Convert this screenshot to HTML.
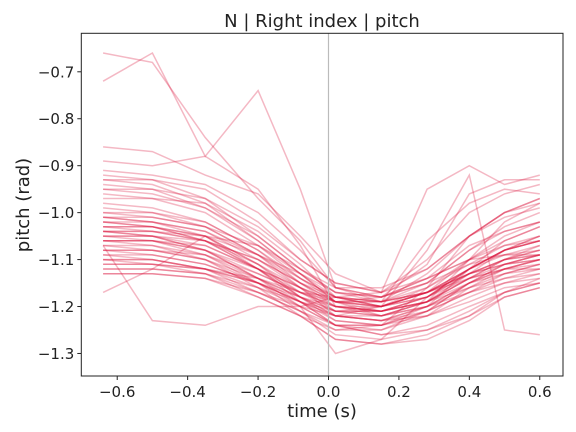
<!DOCTYPE html>
<html><head><meta charset="utf-8"><style>
html,body{margin:0;padding:0;background:#fff;}
svg{display:block;font-family:"DejaVu Sans","Liberation Sans",sans-serif;}
</style></head><body>
<svg id="chart" width="576" height="432">
<rect x="0" y="0" width="576" height="432" fill="#fff"/>
<g id="lines"></g>
<g id="axes"></g>
<text x="322" y="27" text-anchor="middle" font-size="18" fill="#222">N | Right index | pitch</text>
<text x="322" y="417" text-anchor="middle" font-size="18" fill="#222">time (s)</text>
<text x="0" y="0" transform="translate(29,205) rotate(-90)" text-anchor="middle" font-size="18" fill="#222">pitch (rad)</text>
</svg>
<script>
const times = [-0.64,-0.5,-0.35,-0.2,-0.08,0.02,0.15,0.28,0.4,0.5,0.6];
const series = [
[-0.93,-0.93,-0.95,-1.02,-1.10,-1.15,-1.17,-1.12,-1.05,-1.00,-0.97],
[-0.95,-0.95,-0.97,-1.05,-1.12,-1.17,-1.18,-1.15,-1.08,-1.03,-1.00],
[-0.97,-0.97,-0.98,-1.06,-1.13,-1.19,-1.20,-1.17,-1.10,-1.06,-1.03],
[-1.00,-1.00,-1.02,-1.08,-1.15,-1.20,-1.21,-1.18,-1.12,-1.08,-1.05],
[-1.01,-1.02,-1.04,-1.10,-1.16,-1.21,-1.22,-1.19,-1.14,-1.10,-1.07],
[-1.02,-1.03,-1.05,-1.11,-1.17,-1.18,-1.19,-1.17,-1.13,-1.10,-1.09],
[-1.03,-1.03,-1.06,-1.12,-1.18,-1.22,-1.23,-1.20,-1.15,-1.11,-1.09],
[-1.04,-1.05,-1.07,-1.12,-1.16,-1.19,-1.20,-1.18,-1.13,-1.11,-1.10],
[-1.05,-1.05,-1.08,-1.14,-1.19,-1.24,-1.25,-1.22,-1.16,-1.12,-1.10],
[-1.06,-1.06,-1.08,-1.13,-1.17,-1.20,-1.20,-1.17,-1.13,-1.10,-1.08],
[-1.07,-1.07,-1.09,-1.14,-1.18,-1.21,-1.22,-1.20,-1.16,-1.13,-1.11],
[-1.08,-1.08,-1.10,-1.15,-1.19,-1.23,-1.24,-1.22,-1.18,-1.15,-1.13],
[-1.09,-1.09,-1.11,-1.15,-1.19,-1.21,-1.21,-1.19,-1.16,-1.14,-1.13],
[-1.10,-1.10,-1.12,-1.16,-1.20,-1.24,-1.26,-1.24,-1.20,-1.17,-1.15],
[-1.12,-1.12,-1.13,-1.17,-1.20,-1.22,-1.22,-1.20,-1.17,-1.15,-1.14],
[-1.13,-1.13,-1.14,-1.17,-1.21,-1.26,-1.27,-1.25,-1.21,-1.17,-1.15],
[-1.05,-1.05,-1.06,-1.10,-1.15,-1.18,-1.17,-1.14,-1.10,-1.07,-1.06],
[-1.00,-1.01,-1.03,-1.09,-1.15,-1.19,-1.19,-1.15,-1.08,-1.04,-1.02],
[-0.98,-0.99,-1.02,-1.08,-1.14,-1.18,-1.19,-1.16,-1.10,-1.05,-1.02],
[-0.91,-0.92,-0.94,-1.00,-1.08,-1.16,-1.18,-1.11,-0.96,-0.93,-0.93],
[-0.86,-0.87,-0.92,-0.96,-1.05,-1.13,-1.17,-0.95,-0.90,-0.94,-0.92],
[-0.89,-0.90,-0.88,-0.95,-1.07,-1.20,-1.22,-1.19,-1.10,-1.02,-0.98],
[-1.04,-1.04,-1.05,-1.09,-1.13,-1.17,-1.18,-1.15,-1.11,-1.07,-1.05],
[-1.11,-1.11,-1.12,-1.15,-1.18,-1.20,-1.21,-1.19,-1.15,-1.13,-1.12],
[-1.02,-1.03,-1.06,-1.12,-1.18,-1.23,-1.24,-1.21,-1.15,-1.12,-1.10],
[-1.06,-1.07,-1.10,-1.16,-1.22,-1.27,-1.28,-1.27,-1.23,-1.18,-1.16],
[-1.08,-1.09,-1.11,-1.15,-1.20,-1.24,-1.26,-1.25,-1.22,-1.17,-1.14],
[-0.95,-0.96,-0.99,-1.05,-1.12,-1.17,-1.19,-1.06,-0.98,-0.95,-0.96],
[-1.01,-1.01,-1.03,-1.07,-1.12,-1.16,-1.16,-1.12,-1.05,-1.01,-0.99],
[-0.93,-0.94,-0.98,-1.04,-1.11,-1.18,-1.20,-1.17,-1.12,-1.08,-1.06],
[-0.66,-0.68,-0.84,-0.97,-1.06,-1.16,-1.18,-1.14,-1.07,-1.04,-1.02],
[-0.72,-0.66,-0.88,-0.74,-0.95,-1.16,-1.19,-1.13,-1.05,-1.00,-0.98],
[-1.07,-1.23,-1.24,-1.20,-1.20,-1.18,-1.20,-1.18,-1.12,-1.08,-1.06],
[-1.04,-1.05,-1.08,-1.14,-1.20,-1.30,-1.27,-1.18,-1.12,-1.08,-1.06],
[-1.10,-1.10,-1.12,-1.15,-1.19,-1.22,-1.20,-1.08,-0.92,-1.25,-1.26],
[-1.17,-1.12,-1.05,-1.07,-1.13,-1.18,-1.20,-1.17,-1.12,-1.08,-1.06],
[-1.03,-1.04,-1.06,-1.11,-1.16,-1.20,-1.21,-1.19,-1.14,-1.11,-1.09],
[-1.06,-1.06,-1.07,-1.12,-1.17,-1.21,-1.21,-1.18,-1.14,-1.12,-1.10],
[-1.09,-1.10,-1.12,-1.17,-1.21,-1.24,-1.24,-1.21,-1.17,-1.14,-1.12],
[-1.04,-1.04,-1.06,-1.10,-1.15,-1.19,-1.20,-1.17,-1.12,-1.09,-1.07],
[-0.99,-1.00,-1.03,-1.09,-1.16,-1.22,-1.23,-1.20,-1.12,-1.06,-1.03],
[-1.12,-1.12,-1.13,-1.16,-1.19,-1.22,-1.23,-1.22,-1.19,-1.16,-1.15],
[-0.92,-0.93,-0.97,-1.03,-1.10,-1.15,-1.17,-1.10,-1.00,-0.96,-0.94],
[-1.07,-1.08,-1.10,-1.14,-1.18,-1.22,-1.23,-1.21,-1.17,-1.13,-1.11],
[-1.03,-1.03,-1.05,-1.11,-1.18,-1.21,-1.20,-1.16,-1.11,-1.09,-1.08],
[-1.05,-1.06,-1.09,-1.15,-1.21,-1.25,-1.25,-1.21,-1.15,-1.11,-1.09],
[-1.08,-1.08,-1.09,-1.13,-1.17,-1.20,-1.21,-1.18,-1.13,-1.10,-1.09],
[-1.10,-1.11,-1.13,-1.18,-1.22,-1.25,-1.24,-1.20,-1.15,-1.12,-1.11],
[-1.02,-1.02,-1.04,-1.09,-1.14,-1.18,-1.19,-1.17,-1.13,-1.11,-1.10],
[-0.96,-0.97,-1.00,-1.07,-1.14,-1.19,-1.21,-1.19,-1.14,-1.10,-1.08],
[-1.13,-1.13,-1.14,-1.18,-1.22,-1.27,-1.28,-1.26,-1.22,-1.18,-1.16],
[-1.06,-1.06,-1.08,-1.12,-1.16,-1.19,-1.18,-1.14,-1.10,-1.09,-1.09],
[-1.01,-1.02,-1.05,-1.12,-1.19,-1.24,-1.24,-1.16,-1.05,-1.00,-0.97],
[-1.11,-1.11,-1.12,-1.14,-1.17,-1.19,-1.19,-1.17,-1.14,-1.12,-1.12],
[-0.94,-0.95,-0.99,-1.06,-1.13,-1.19,-1.22,-1.19,-1.13,-1.08,-1.05]
];
const xTicks = [-0.6,-0.4,-0.2,0.0,0.2,0.4,0.6];
const yTicks = [-0.7,-0.8,-0.9,-1.0,-1.1,-1.2,-1.3];

const L=81.3,R=563,T=33.3,B=376;
const X0=-0.702,X1=0.666,Y0=-1.348,Y1=-0.618;
const sx=v=>L+(v-X0)/(X1-X0)*(R-L);
const sy=v=>B-(v-Y0)/(Y1-Y0)*(B-T);
const NS='http://www.w3.org/2000/svg';
function mk(t,a,p){const e=document.createElementNS(NS,t);for(const k in a)e.setAttribute(k,a[k]);p.appendChild(e);return e;}
const lg=document.getElementById('lines');
series.forEach((s,i)=>{
  const pl=mk('polyline',{points:s.map((v,j)=>sx(times[j]).toFixed(1)+','+sy(v).toFixed(1)).join(' '),fill:'none',stroke:'rgb(220,20,60)','stroke-opacity':0.3,'stroke-width':1.5},lg);
  
  
});
const ax=document.getElementById('axes');
const vl=mk('line',{x1:sx(0),x2:sx(0),y1:T,y2:B,stroke:'#bbb','stroke-width':1.2},ax);


const fr=mk('rect',{x:L,y:T,width:R-L,height:B-T,fill:'none',stroke:'#222','stroke-width':1},ax);


const fmt=v=>(v<0?'\u2212':'')+Math.abs(v).toFixed(1);
xTicks.forEach(v=>{
  const x=sx(v);
  mk('line',{x1:x,x2:x,y1:B,y2:B+4,stroke:'#222'},ax);
  const t=mk('text',{x:x,y:B+21,'text-anchor':'middle','font-size':15,fill:'#222'},ax);
  t.textContent=fmt(v);
  
  
});
yTicks.forEach(v=>{
  const y=sy(v);
  mk('line',{x1:L-4,x2:L,y1:y,y2:y,stroke:'#222'},ax);
  const t=mk('text',{x:L-7,y:y+5.5,'text-anchor':'end','font-size':15,fill:'#222'},ax);
  t.textContent=fmt(v);
  
  
});
</script>
</body></html>
